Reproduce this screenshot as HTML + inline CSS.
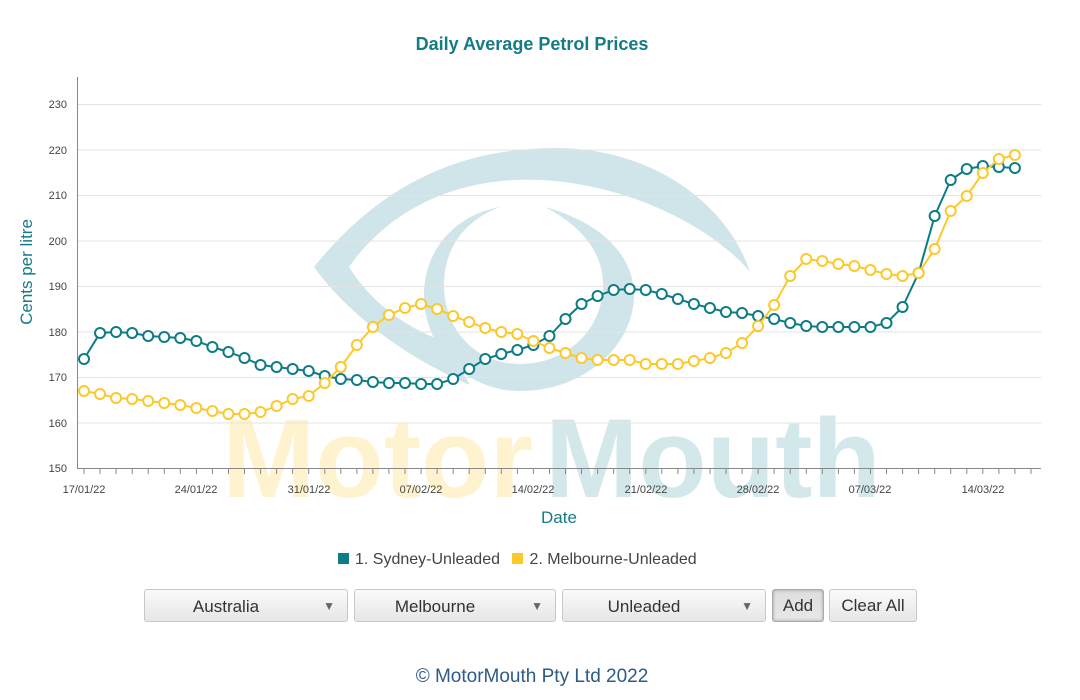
<!DOCTYPE html>
<html><head><meta charset="utf-8">
<style>
body{margin:0;width:1080px;height:700px;background:#fff;font-family:"Liberation Sans",sans-serif;position:relative;overflow:hidden}
.sel{position:absolute;top:589px;height:33px;border:1px solid #c8c8c8;border-radius:3px;background:linear-gradient(#fafafa,#e6e6e6);font-size:17px;color:#333;box-sizing:border-box}
.sel span{position:absolute;top:7px;left:0;right:40px;text-align:center}
.sel i{position:absolute;right:12px;top:9px;font-style:normal;font-size:12px;color:#666}
.btn{position:absolute;top:589px;height:33px;border:1px solid #c8c8c8;border-radius:3px;background:linear-gradient(#fafafa,#e6e6e6);font-size:17px;color:#333;box-sizing:border-box;text-align:center;line-height:31px}
</style></head><body>
<svg id="s" width="1080" height="540" style="position:absolute;left:0;top:0" font-family="Liberation Sans, sans-serif">
<text x="532" y="50" text-anchor="middle" font-size="18" font-weight="bold" fill="#157b86">Daily Average Petrol Prices</text>
<g fill="#cfe5e9">
<path d="M314,267 C380,185 460,147 560,148 C660,150 730,210 750,272 C720,235 640,185 540,180 C450,176 385,215 349,267 Z"/>
<path d="M314,267 L349,267 C370,300 400,325 445,342 L470,385 C400,355 345,310 314,267Z"/>
<path d="M500,207 C455,215 424,250 424,295 C424,350 468,391 520,391 C585,391 634,345 634,295 C634,255 600,222 545,207 C585,228 603,255 603,285 C603,330 566,364 520,364 C476,364 444,330 444,285 C444,248 465,220 500,207Z"/>
</g>
<text x="222" y="497" font-size="112" font-weight="bold" fill="#fff3cf">Motor</text>
<text x="545" y="497" font-size="112" font-weight="bold" fill="#d3e8eb">Mouth</text>
<g stroke="#e3e3e3" stroke-width="1">
<line x1="77" x2="1041" y1="104.5" y2="104.5"/><line x1="77" x2="1041" y1="150" y2="150"/><line x1="77" x2="1041" y1="195.5" y2="195.5"/><line x1="77" x2="1041" y1="241" y2="241"/><line x1="77" x2="1041" y1="286.5" y2="286.5"/><line x1="77" x2="1041" y1="332" y2="332"/><line x1="77" x2="1041" y1="377.5" y2="377.5"/><line x1="77" x2="1041" y1="423" y2="423"/>
</g>
<line x1="77.5" x2="77.5" y1="77" y2="469" stroke="#888"/>
<line x1="77" x2="1041" y1="468.5" y2="468.5" stroke="#888"/>
<g font-size="11" fill="#444" text-anchor="end">
<text x="67" y="108">230</text><text x="67" y="154">220</text><text x="67" y="199">210</text><text x="67" y="245">200</text><text x="67" y="290">190</text><text x="67" y="336">180</text><text x="67" y="381">170</text><text x="67" y="427">160</text><text x="67" y="472">150</text>
</g>
<g id="ticks" stroke="#888"></g>
<g font-size="11" fill="#444" text-anchor="middle">
<text x="84" y="493">17/01/22</text><text x="196" y="493">24/01/22</text><text x="309" y="493">31/01/22</text><text x="421" y="493">07/02/22</text><text x="533" y="493">14/02/22</text><text x="646" y="493">21/02/22</text><text x="758" y="493">28/02/22</text><text x="870" y="493">07/03/22</text><text x="983" y="493">14/03/22</text>
</g>
<text x="559" y="523" text-anchor="middle" font-size="17" fill="#157b86">Date</text>
<text transform="translate(32,272) rotate(-90)" text-anchor="middle" font-size="17" fill="#157b86">Cents per litre</text>
<g id="ser"></g>
</svg>
<div style="position:absolute;top:551px;left:338px;font-size:16px;color:#444;white-space:nowrap">
<span style="display:inline-block;width:11px;height:11px;background:#0e7c86;margin-right:6px"></span>1. Sydney-Unleaded
<span style="display:inline-block;width:11px;height:11px;background:#fcc92c;margin:0 6px 0 8px"></span>2. Melbourne-Unleaded</div>
<div class="sel" style="left:144px;width:204px"><span>Australia</span><i>▼</i></div>
<div class="sel" style="left:354px;width:202px"><span>Melbourne</span><i>▼</i></div>
<div class="sel" style="left:562px;width:204px"><span>Unleaded</span><i>▼</i></div>
<div class="btn" style="left:772px;width:52px;border-color:#aaa;background:linear-gradient(#ddd,#e8e8e8);box-shadow:inset 0 0 3px #999">Add</div>
<div class="btn" style="left:829px;width:88px">Clear All</div>
<div style="position:absolute;top:666px;left:0;width:1064px;text-align:center;font-size:19px;color:#2d5b86">© MotorMouth Pty Ltd 2022</div>
<script>
var syd=[359,333,332,333,336,337,338,341,347,352,358,365,367,369,371,376,379,380,382,383,383,384,384,379,369,359,354,350,345,336,319,304,296,290,289,290,294,299,304,308,312,313,316,319,323,326,327,327,327,327,323,307,273,216,180,169,166,167,168];
var mel=[391,394,398,399,401,403,405,408,411,414,414,412,406,399,396,383,367,345,327,315,308,304,309,316,322,328,332,334,341,348,353,358,360,360,360,364,364,364,361,358,353,343,326,305,276,259,261,264,266,270,274,276,273,249,211,196,173,159,155];
function X(i){return 84+16.05*i}
var ns="http://www.w3.org/2000/svg",g=document.getElementById('ser'),t=document.getElementById('ticks');
for(var i=0;i<60;i++){var l=document.createElementNS(ns,'line');var x=(84+16.05*i).toFixed(1);l.setAttribute('x1',x);l.setAttribute('x2',x);l.setAttribute('y1',469);l.setAttribute('y2',474);t.appendChild(l);}
function draw(d,c){var p=d.map(function(y,i){return X(i).toFixed(1)+','+y}).join(' ');
var pl=document.createElementNS(ns,'polyline');pl.setAttribute('points',p);pl.setAttribute('fill','none');pl.setAttribute('stroke',c);pl.setAttribute('stroke-width','2');g.appendChild(pl);
d.forEach(function(y,i){var ci=document.createElementNS(ns,'circle');ci.setAttribute('cx',X(i));ci.setAttribute('cy',y);ci.setAttribute('r','5');ci.setAttribute('fill','#fff');ci.setAttribute('stroke',c);ci.setAttribute('stroke-width','2');g.appendChild(ci);});}
draw(syd,'#0e7c86');draw(mel,'#fcc92c');
</script>
</body></html>
